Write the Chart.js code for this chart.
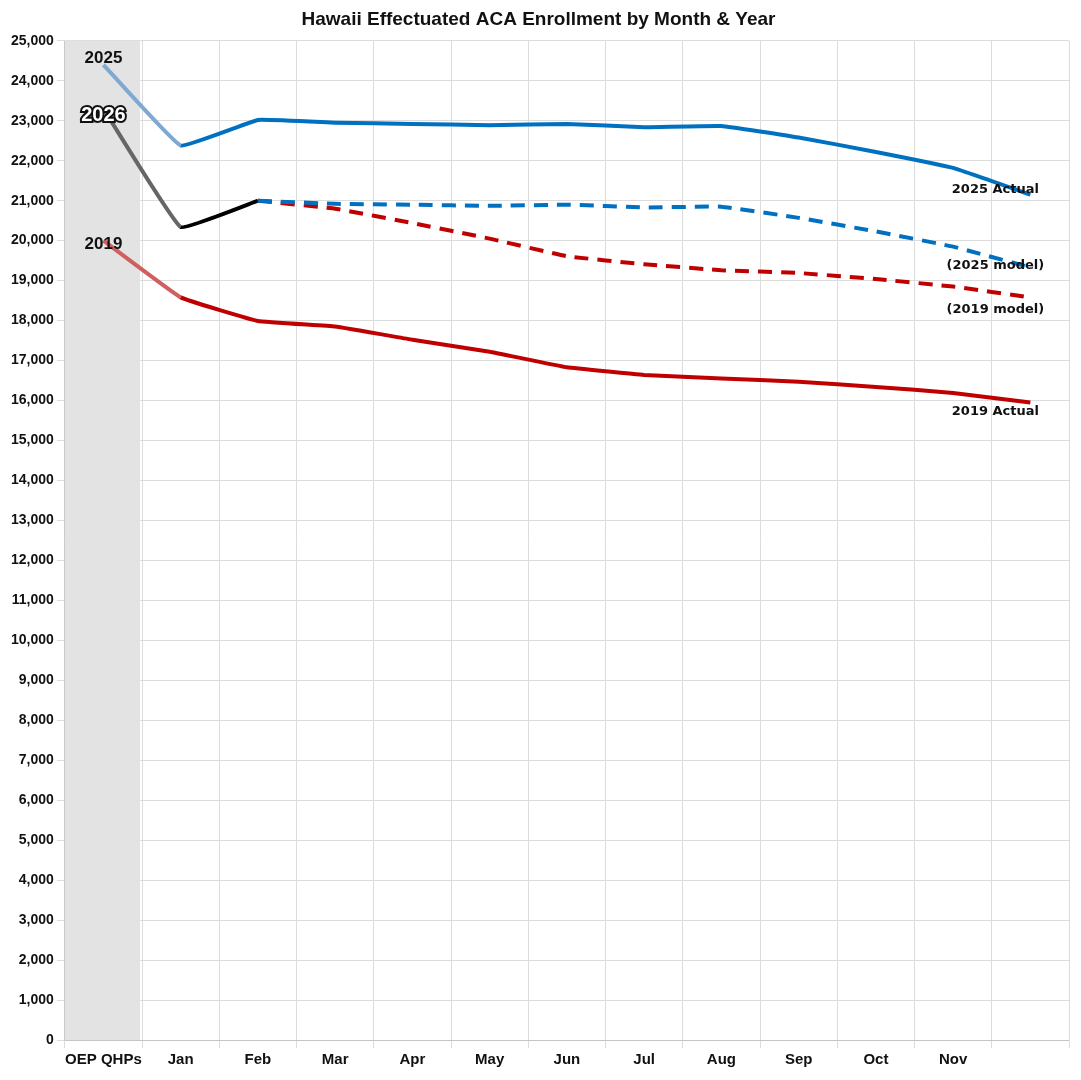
<!DOCTYPE html>
<html><head><meta charset="utf-8">
<script src="https://cdn.jsdelivr.net/npm/chart.js@4"></script>
<style>html,body{margin:0;background:#fff}#wrap{width:1081px;height:1080px}</style>
</head><body><div id="wrap"><canvas id="c"></canvas></div>
<script>
const months = ['OEP QHPs','Jan','Feb','Mar','Apr','May','Jun','Jul','Aug','Sep','Oct','Nov',''];
const actual2025 = [24400,22380,23020,22950,22920,22890,22920,22840,22870,22580,22220,21820,21150];
const model2025 = [null,null,21000,20920,20900,20870,20900,20830,20850,20570,20230,19850,19330];
const actual2026 = [23300,20340,21000];
const actual2019 = [20000,18580,17990,17850,17520,17220,16830,16640,16550,16470,16340,16190,15950];
const model2019 = [null,null,21000,20800,20440,20050,19610,19410,19260,19190,19040,18850,18580];

function seg(main, light){ return { borderColor: c => c.p0DataIndex === 0 ? light : main }; }

const overlay = {
  id: 'overlay',
  beforeDatasetsDraw(chart){
    const {ctx, chartArea, scales:{x}} = chart;
    const w = x.getPixelForValue(1) - x.getPixelForValue(0);
    ctx.save();
    ctx.fillStyle = '#e3e3e3';
    ctx.fillRect(x.getPixelForValue(0) - w/2, chartArea.top, w - 2, chartArea.bottom - chartArea.top);
    ctx.restore();
  },
  afterDatasetsDraw(chart){
    const {ctx, scales:{x, y}} = chart;
    ctx.save();
    ctx.font = 'bold 17px "Liberation Sans", Arial';
    ctx.textAlign = 'center';
    ctx.fillStyle = '#111';
    ctx.fillText('2025', x.getPixelForValue(0), y.getPixelForValue(24450));
    ctx.fillText('2019', x.getPixelForValue(0), y.getPixelForValue(19800));
    ctx.font = 'bold 20px "Liberation Sans", Arial';
    ctx.lineWidth = 4; ctx.strokeStyle = '#111';
    ctx.strokeText('2026', x.getPixelForValue(0), y.getPixelForValue(23000));
    ctx.fillStyle = '#fff';
    ctx.fillText('2026', x.getPixelForValue(0), y.getPixelForValue(23000));
    ctx.font = 'bold 13px "DejaVu Sans", Arial';
    ctx.fillStyle = '#111';
    const xe = x.getPixelForValue(12) - 35;
    ctx.fillText('2025 Actual', xe, y.getPixelForValue(21200));
    ctx.fillText('(2025 model)', xe, y.getPixelForValue(19300));
    ctx.fillText('(2019 model)', xe, y.getPixelForValue(18200));
    ctx.fillText('2019 Actual', xe, y.getPixelForValue(15650));
    ctx.restore();
  }
};

new Chart(document.getElementById('c'), {
  type: 'line',
  data: {
    labels: months,
    datasets: [
      { data: actual2025, borderColor: '#0070c0', borderWidth: 4, segment: seg('#0070c0', '#7fa9d0') },
      { data: model2025, borderColor: '#0070c0', borderWidth: 4, borderDash: [14, 9] },
      { data: model2019, borderColor: '#c00000', borderWidth: 4, borderDash: [14, 9] },
      { data: actual2019, borderColor: '#c00000', borderWidth: 4, segment: seg('#c00000', '#d06060') },
      { data: actual2026, borderColor: '#000', borderWidth: 4, segment: seg('#000', '#666') }
    ]
  },
  options: {
    responsive: true, maintainAspectRatio: false, animation: false,
    layout: { padding: { left: 8, right: 12, top: 6, bottom: 8 } },
    elements: { point: { radius: 0 }, line: { tension: 0.08 } },
    plugins: {
      legend: { display: false }, tooltip: { enabled: false },
      title: { display: true, text: 'Hawaii Effectuated ACA Enrollment by Month & Year', color: '#111',
               font: { family: 'Liberation Sans', size: 19, weight: 'bold' }, padding: { top: 2, bottom: 10 } }
    },
    scales: {
      x: { offset: true, grid: { color: '#dcdcdc', offset: true },
           ticks: { color: '#111', font: { family: 'Liberation Sans', size: 15, weight: 'bold' }, maxRotation: 0, autoSkip: false } },
      y: { min: 0, max: 25000, grid: { color: '#dcdcdc' },
           ticks: { stepSize: 1000, color: '#111', font: { family: 'Liberation Sans', size: 14, weight: 'bold' },
                    callback: v => v.toLocaleString('en-US') } }
    }
  },
  plugins: [overlay]
});
</script></body></html>
